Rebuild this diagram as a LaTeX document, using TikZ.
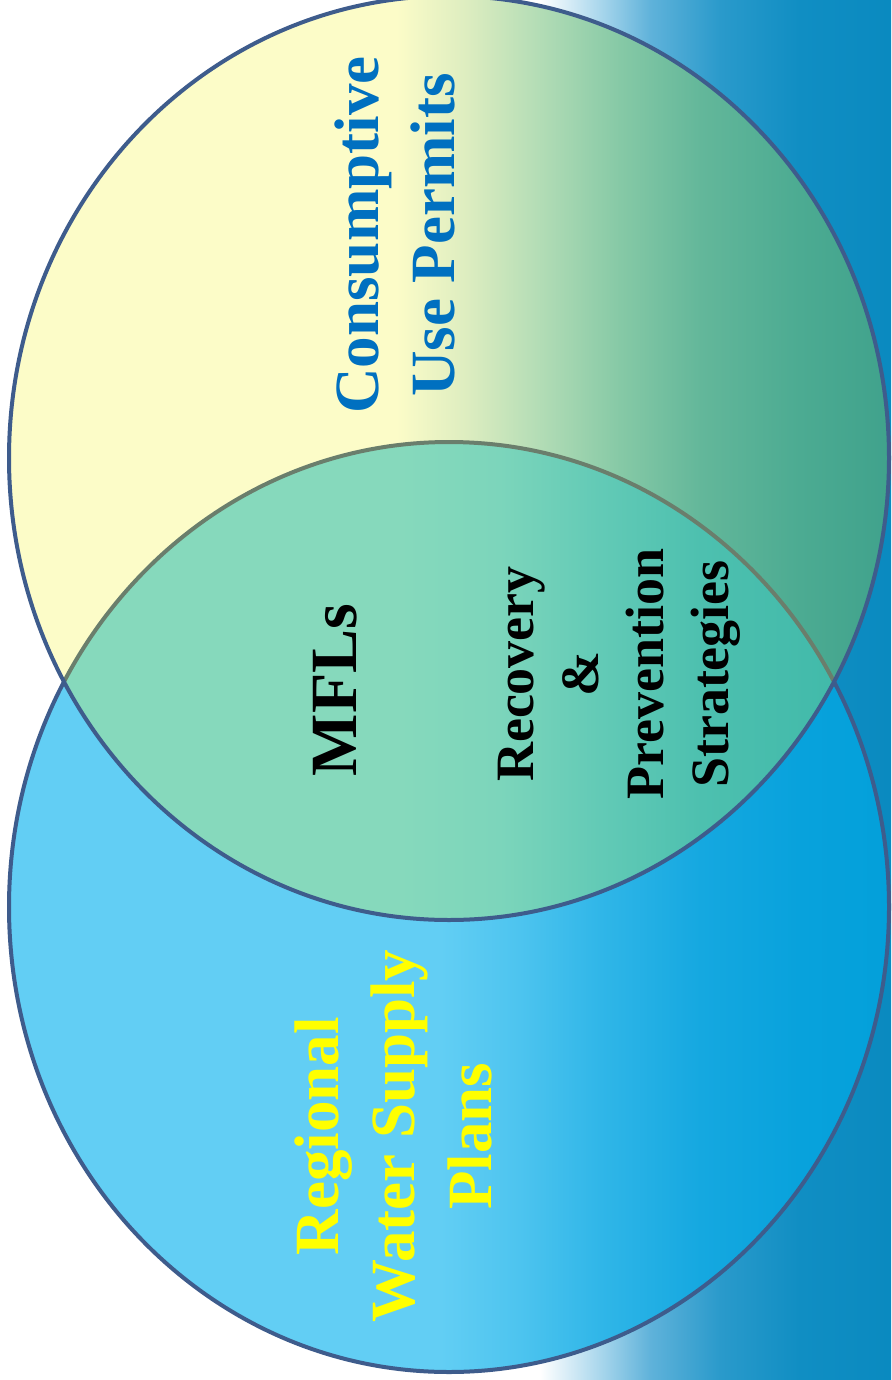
\documentclass[tikz,border=0pt]{standalone}
\usepackage{fontspec}
\setmainfont{Liberation Serif}

% colours
\definecolor{ringblue}{HTML}{3E5C8C}
\definecolor{ringgreen}{HTML}{6A7E6C}
\definecolor{cupblue}{HTML}{0070C0}
\definecolor{rwspyellow}{HTML}{FFFF00}

\definecolor{tA}{HTML}{FCFCC8}
\definecolor{tB}{HTML}{DDEDC0}
\definecolor{tC}{HTML}{B4DDB6}
\definecolor{tD}{HTML}{86C9A6}
\definecolor{tE}{HTML}{63B79A}
\definecolor{tF}{HTML}{4CAB92}
\definecolor{tG}{HTML}{40A28C}

\definecolor{bA}{HTML}{62CEF4}
\definecolor{bB}{HTML}{4DC4EF}
\definecolor{bC}{HTML}{30B6E8}
\definecolor{bD}{HTML}{15A8E0}
\definecolor{bE}{HTML}{08A2DC}
\definecolor{bF}{HTML}{03A0DA}

\definecolor{mA}{HTML}{86D9BC}
\definecolor{mB}{HTML}{7CD5BB}
\definecolor{mC}{HTML}{62CAB6}
\definecolor{mD}{HTML}{4DC0AF}
\definecolor{mE}{HTML}{42BAAA}

\definecolor{gA}{HTML}{A8D6EC}
\definecolor{gB}{HTML}{5FB2DA}
\definecolor{gC}{HTML}{2A9ACB}
\definecolor{gD}{HTML}{108EC3}
\definecolor{gE}{HTML}{0A8AC0}

% fills (25bp..75bp = left..right edge of the path)
\pgfdeclarehorizontalshading{topfill}{100bp}{color(0bp)=(tA); color(47bp)=(tA);
  color(51bp)=(tB); color(55bp)=(tC); color(59.7bp)=(tD); color(64.3bp)=(tE);
  color(69.9bp)=(tF); color(75bp)=(tG); color(100bp)=(tG)}
\pgfdeclarehorizontalshading{bottomfill}{100bp}{color(0bp)=(bA); color(49.5bp)=(bA);
  color(54bp)=(bB); color(58.6bp)=(bC); color(64.3bp)=(bD); color(69.9bp)=(bE);
  color(75bp)=(bF); color(100bp)=(bF)}
\pgfdeclarehorizontalshading{middlefill}{100bp}{color(0bp)=(mA); color(47.2bp)=(mA);
  color(52.9bp)=(mB); color(58.6bp)=(mC); color(64.3bp)=(mD); color(71.6bp)=(mE);
  color(100bp)=(mE)}
\pgfdeclarehorizontalshading{waterfill}{100bp}{color(0bp)=(white); color(55.3bp)=(white);
  color(58.7bp)=(gA); color(61.5bp)=(gB); color(65.4bp)=(gC); color(69.9bp)=(gD);
  color(75bp)=(gE); color(100bp)=(gE)}

\begin{document}
\begin{tikzpicture}[x=1pt,y=-1pt]
    \tikzstyle{ringline} = [line width=4pt];
    \tikzstyle{venntext} = [rotate=90, align=center, inner sep=0pt];
    \tikzstyle{bigtext} = [venntext, font=\bfseries\fontsize{63}{76.5}\selectfont];
    \tikzstyle{smalltext} = [venntext, font=\bfseries\fontsize{54}{65}\selectfont];

    \useasboundingbox (0,0) rectangle (891,1380);
    \shade[shading=waterfill] (0,0) rectangle (891,1380);

    % the two rings
    \shade[shading=bottomfill, draw=ringblue, ringline] (449,907) ellipse [x radius=440pt, y radius=465pt];
    \shade[shading=topfill] (449,458) ellipse [x radius=440pt, y radius=462pt];
    \begin{scope}
        \clip (449,458) ellipse [x radius=440pt, y radius=462pt];
        \shade[shading=middlefill] (449,907) ellipse [x radius=440pt, y radius=465pt];
        \draw[ringgreen, ringline] (449,907) ellipse [x radius=440pt, y radius=465pt];
    \end{scope}
    \draw[ringblue, ringline] (449,458) ellipse [x radius=440pt, y radius=462pt];

    % texts
    \node[bigtext, text=cupblue] (CUP) at (395,235) {Consumptive\\Use Permits};
    \node[venntext, font=\bfseries\fontsize{66}{78}\selectfont] (MFL) at (335,690) {MFLs};
    \node[smalltext] (RPS) at (619,674) {Recovery\\\&\\Prevention\\Strategies};
    \node[bigtext, text=rwspyellow] (RWSP) at (393,1136) {Regional\\Water Supply\\Plans};

\end{tikzpicture}
\end{document}
